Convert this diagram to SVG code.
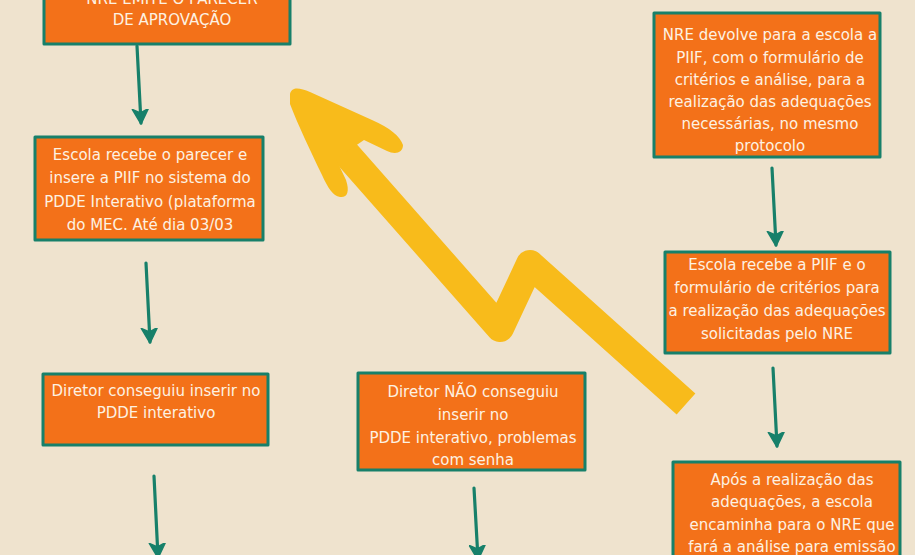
<svg xmlns="http://www.w3.org/2000/svg" width="915" height="555" viewBox="0 0 915 555">
<defs>
<style>
.box{fill:#f37119;stroke:#17806a;stroke-width:3;stroke-linejoin:round}
.t{font-family:"DejaVu Sans",sans-serif;font-size:15px;fill:#fdf1e2;text-anchor:middle}
.c{fill:none;stroke:#17806a;stroke-width:3.2;stroke-linecap:round}
</style>
<marker id="ah" markerUnits="userSpaceOnUse" markerWidth="26" markerHeight="26" viewBox="-14 -13 26 26" refX="0" refY="0" orient="auto">
<path d="M1,0 L-14,-8 L-10,0 L-14,8 Z" fill="#17806a" stroke="#17806a" stroke-width="1.5" stroke-linejoin="round"/>
</marker>
</defs>
<rect width="915" height="555" fill="#efe3ce"/>
<g id="yellow-arrow" fill="#f8bb1b">
<polyline points="322,126 500,328 530,264 686,404" fill="none" stroke="#f8bb1b" stroke-width="28" stroke-linejoin="round"/>
<path d="M290,94 C292,86 300,88 310,92 L372,120 C390,128 400,136 403,145 C403,153 395,155 387,151 L364,140 L336,159 L346,180 C350,192 347,198 340,197 C333,196 328,188 322,175 C310,150 298,125 290,104 Z"/>
</g>
<g id="connectors">
<line class="c" x1="137" y1="46" x2="141" y2="123" marker-end="url(#ah)"/>
<line class="c" x1="146" y1="263" x2="150" y2="342" marker-end="url(#ah)"/>
<line class="c" x1="154" y1="476" x2="158" y2="557" marker-end="url(#ah)"/>
<line class="c" x1="474" y1="488" x2="478" y2="559" marker-end="url(#ah)"/>
<line class="c" x1="772" y1="168" x2="776" y2="245" marker-end="url(#ah)"/>
<line class="c" x1="773" y1="368" x2="777" y2="446" marker-end="url(#ah)"/>
</g>
<g id="node-nre-emite">
<rect class="box" x="44" y="-10" width="246" height="54"/>
<text class="t" x="172" y="4">NRE EMITE O PARECER</text>
<text class="t" x="172" y="25">DE APROVAÇÃO</text>
</g>
<g id="node-escola-recebe-parecer">
<rect class="box" x="35" y="137" width="228" height="103"/>
<text class="t" x="150" y="160">Escola recebe o parecer e</text>
<text class="t" x="150" y="183">insere a PIIF no sistema do</text>
<text class="t" x="150" y="207">PDDE Interativo (plataforma</text>
<text class="t" x="150" y="230">do MEC. Até dia 03/03</text>
</g>
<g id="node-diretor-conseguiu">
<rect class="box" x="43" y="374" width="225" height="71"/>
<text class="t" x="156" y="396">Diretor conseguiu inserir no</text>
<text class="t" x="156" y="418">PDDE interativo</text>
</g>
<g id="node-diretor-nao">
<rect class="box" x="358" y="373" width="227" height="97"/>
<text class="t" x="473" y="397">Diretor NÃO conseguiu</text>
<text class="t" x="473" y="420">inserir no</text>
<text class="t" x="473" y="443">PDDE interativo, problemas</text>
<text class="t" x="473" y="465">com senha</text>
</g>
<g id="node-nre-devolve">
<rect class="box" x="654" y="13" width="226" height="144"/>
<text class="t" x="770" y="40">NRE devolve para a escola a</text>
<text class="t" x="770" y="63">PIIF, com o formulário de</text>
<text class="t" x="770" y="85">critérios e análise, para a</text>
<text class="t" x="770" y="107">realização das adequações</text>
<text class="t" x="770" y="129">necessárias, no mesmo</text>
<text class="t" x="770" y="151">protocolo</text>
</g>
<g id="node-escola-recebe-piif">
<rect class="box" x="665" y="252" width="225" height="101"/>
<text class="t" x="777" y="270">Escola recebe a PIIF e o</text>
<text class="t" x="777" y="293">formulário de critérios para</text>
<text class="t" x="777" y="316">a realização das adequações</text>
<text class="t" x="777" y="339">solicitadas pelo NRE</text>
</g>
<g id="node-apos-realizacao">
<rect class="box" x="673" y="462" width="227" height="110"/>
<text class="t" x="792" y="485">Após a realização das</text>
<text class="t" x="792" y="507">adequações, a escola</text>
<text class="t" x="792" y="530">encaminha para o NRE que</text>
<text class="t" x="792" y="552">fará a análise para emissão</text>
</g>
</svg>
